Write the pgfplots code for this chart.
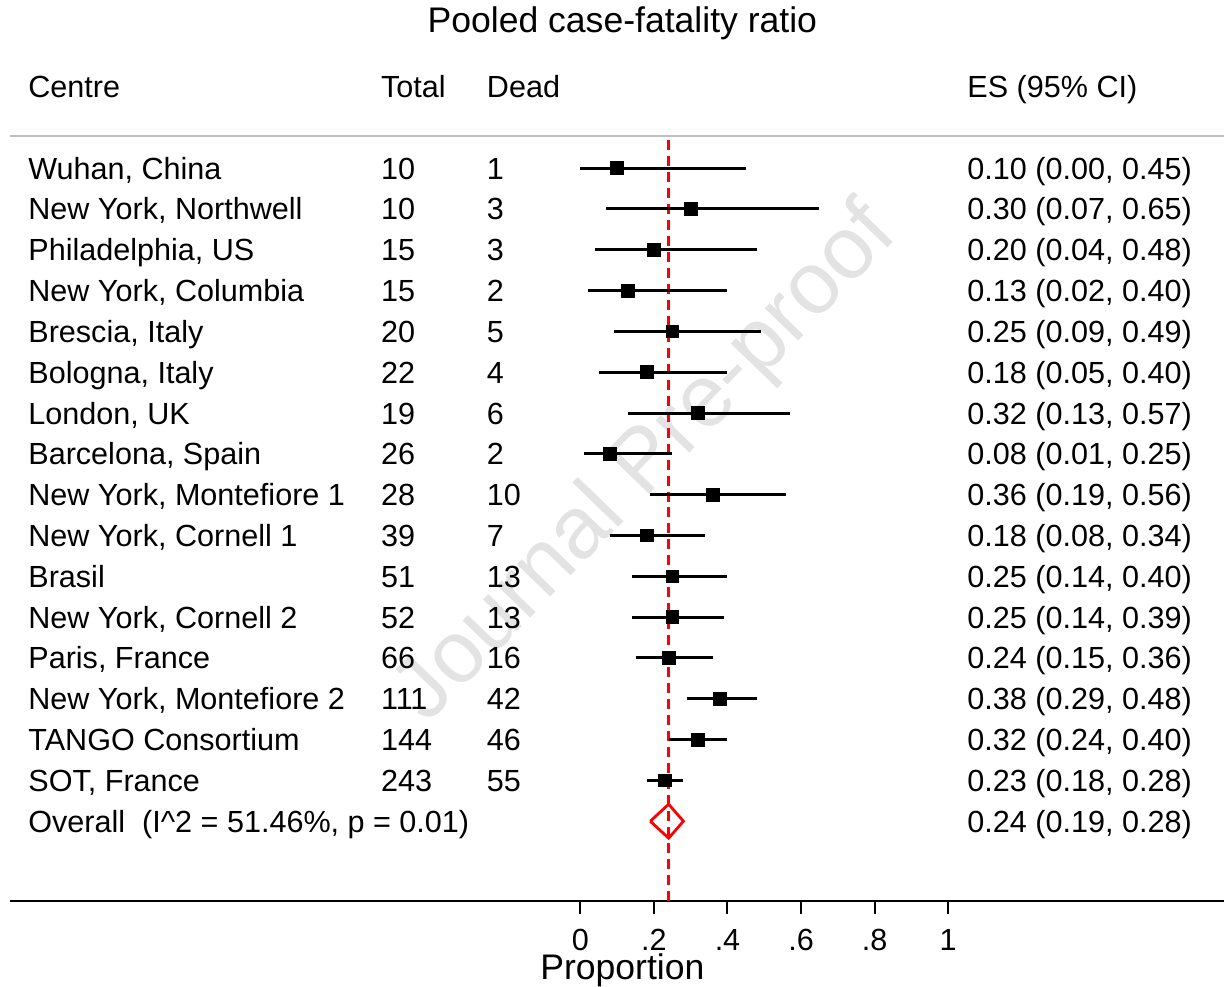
\documentclass[border=0pt]{standalone}
\usepackage{fontspec}
\setmainfont{Liberation Sans}
\usepackage{pgfplots}
\usepackage{pgfplotstable}
\pgfplotsset{compat=1.18}

\newcommand\fs{\fontsize{15.3}{18}\selectfont}
\newcommand\fb{\fontsize{17.8}{21}\selectfont}

% estimate, lower and upper CI per study (row 17 = top)
\pgfplotstableread{
y es lo hi
17 0.10 0.00 0.45
16 0.30 0.07 0.65
15 0.20 0.04 0.48
14 0.13 0.02 0.40
13 0.25 0.09 0.49
12 0.18 0.05 0.40
11 0.32 0.13 0.57
10 0.08 0.01 0.25
9  0.36 0.19 0.56
8  0.18 0.08 0.34
7  0.25 0.14 0.40
6  0.25 0.14 0.39
5  0.24 0.15 0.36
4  0.38 0.29 0.48
3  0.32 0.24 0.40
2  0.23 0.18 0.28
}\studies

\pgfplotstableread[col sep=semicolon]{
y;centre;total;dead;ci
17;Wuhan, China;10;1;0.10 (0.00, 0.45)
16;New York, Northwell;10;3;0.30 (0.07, 0.65)
15;Philadelphia, US;15;3;0.20 (0.04, 0.48)
14;New York, Columbia;15;2;0.13 (0.02, 0.40)
13;Brescia, Italy;20;5;0.25 (0.09, 0.49)
12;Bologna, Italy;22;4;0.18 (0.05, 0.40)
11;London, UK;19;6;0.32 (0.13, 0.57)
10;Barcelona, Spain;26;2;0.08 (0.01, 0.25)
9;New York, Montefiore 1;28;10;0.36 (0.19, 0.56)
8;New York, Cornell 1;39;7;0.18 (0.08, 0.34)
7;Brasil;51;13;0.25 (0.14, 0.40)
6;New York, Cornell 2;52;13;0.25 (0.14, 0.39)
5;Paris, France;66;16;0.24 (0.15, 0.36)
4;New York, Montefiore 2;111;42;0.38 (0.29, 0.48)
3;TANGO Consortium;144;46;0.32 (0.24, 0.40)
2;SOT, France;243;55;0.23 (0.18, 0.28)
}\rows

\begin{document}
\begin{tikzpicture}
\begin{axis}[
  scale only axis,
  width=607.5pt, height=451pt,
  xmin=-1.5516, xmax=1.75,
  ymin=-0.958, ymax=21.12,
  axis x line*=bottom,
  axis y line=none,
  clip=false,
  xtick={0,0.2,0.4,0.6,0.8,1},
  xticklabels={0,.2,.4,.6,.8,1},
  tick align=outside,
  major tick length=6.5pt,
  x axis line style={line width=1pt},
  tick style={line width=1pt, black},
  xticklabel style={font=\fs, anchor=base, yshift=-18pt},
  /pgf/number format/assume math mode=true,
  tabcol/.style={draw=none, mark=none, nodes near coords,
    point meta=explicit symbolic,
    nodes near coords style={font=\fs, anchor=base west, inner sep=0pt, yshift=-5.5pt}},
]
% watermark
\node[font=\fontsize{44}{50}\selectfont, text=black!11, rotate=46] at (axis cs:0.182,9.74) {Journal Pre-proof};

% header, rule
\node[font=\fb, anchor=base, inner sep=0pt, yshift=-6.4pt] at (axis cs:0.114,20.63) {Pooled case-fatality ratio};
\node[font=\fs, anchor=base west, inner sep=0pt, yshift=-5.5pt] at (axis cs:-1.5027,18.99) {Centre};
\node[font=\fs, anchor=base west, inner sep=0pt, yshift=-5.5pt] at (axis cs:-0.5435,18.99) {Total};
\node[font=\fs, anchor=base west, inner sep=0pt, yshift=-5.5pt] at (axis cs:-0.2554,18.99) {Dead};
\node[font=\fs, anchor=base west, inner sep=0pt, yshift=-5.5pt] at (axis cs:1.0516,18.99) {ES (95\% CI)};
\addplot[black!25, line width=1.2pt] coordinates {(-1.5516,17.79) (1.75,17.79)};

% text columns
\addplot[tabcol] table[x expr=-1.5027, y=y, meta=centre] {\rows};
\addplot[tabcol] table[x expr=-0.5435, y=y, meta=total] {\rows};
\addplot[tabcol] table[x expr=-0.2554, y=y, meta=dead] {\rows};
\addplot[tabcol] table[x expr=1.0516, y=y, meta=ci] {\rows};
\node[font=\fs, anchor=base west, inner sep=0pt, yshift=-5.5pt] at (axis cs:-1.5027,1) {Overall\ \ (I\textasciicircum 2 = 51.46\%, p = 0.01)};
\node[font=\fs, anchor=base west, inner sep=0pt, yshift=-5.5pt] at (axis cs:1.0516,1) {0.24 (0.19, 0.28)};

% pooled estimate line
\addplot[red, line width=1.5pt, dash pattern=on 5pt off 3pt] coordinates {(0.24,-0.958) (0.24,17.79)};

% studies
\addplot[only marks, mark=square*, mark size=3.2pt, black,
  error bars/.cd, x dir=both, x explicit, error mark=none,
  error bar style={line width=1.5pt, black}]
  table[x=es, y=y,
    x error plus expr=\thisrow{hi}-\thisrow{es},
    x error minus expr=\thisrow{es}-\thisrow{lo}] {\studies};

% overall diamond
\addplot[red, line width=1.4pt] coordinates {(0.19,1) (0.24,1.416) (0.28,1) (0.24,0.584) (0.19,1)};

\node[font=\fb, anchor=base, inner sep=0pt] at (axis cs:0.114,-0.958) [yshift=-39pt] {Proportion};
% keep the empty margin at the left and top
\path (axis cs:-1.5788,21.12);
\end{axis}
\end{tikzpicture}
\end{document}
